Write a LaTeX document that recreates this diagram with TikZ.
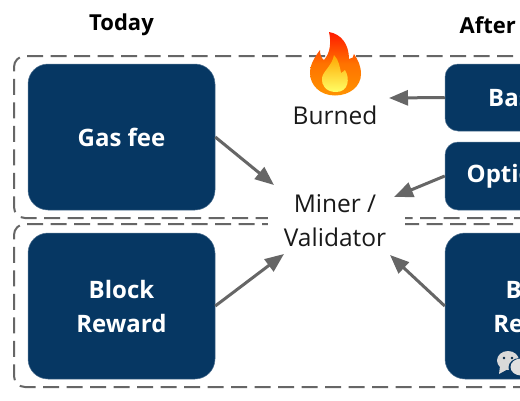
\documentclass[tikz,border=0pt]{standalone}
\usepackage{fontspec}
\setmainfont{Open Sans}
\usetikzlibrary{arrows.meta}
\definecolor{navy}{HTML}{063763}
\definecolor{linegray}{HTML}{666666}
\tikzset{
  x=1pt,y=-1pt,
  feebox/.style={draw=navy!70!white,line width=.5pt,fill=navy,rounded corners=20pt,text=white,font=\fontsize{24}{34}\selectfont\bfseries,align=center,inner sep=0pt},
  zone/.style={draw=linegray,line width=2pt,dash pattern=on 16pt off 7.5pt,rounded corners=11pt},
  flow/.style={draw=linegray,line width=3pt,-{Triangle[length=19pt,width=15pt]}},
  title/.style={font=\fontsize{22}{25}\selectfont\bfseries,text=black,inner sep=0pt},
  lab/.style={font=\fontsize{24.5}{34}\selectfont,text=black!90,align=center,inner sep=0pt}
}
\begin{document}
\begin{tikzpicture}
\useasboundingbox (0,0) rectangle (520,400);
\clip (0,0) rectangle (520,400);
\fill[white] (0,0) rectangle (520,400);
% dashed zones
\draw[zone] (560,56) -- (14,56) -- (14,218) -- (560,218);
\draw[zone] (560,224) -- (14,224) -- (14,387) -- (560,387);
\fill[white] (268,190) rectangle (405,250);
% boxes
\node[feebox,minimum width=187pt,minimum height=146pt] (gas) at (121.5,137) {Gas fee};
\node[feebox,minimum width=187pt,minimum height=146pt] (reward) at (121.5,306) {Block\\Reward};
\node[feebox,minimum width=187pt,minimum height=67pt,rounded corners=13pt] (base) at (538.5,97.5) {Base fee};
\node[feebox,minimum width=187pt,minimum height=68pt,rounded corners=13pt] (tip) at (538.5,176) {Optional tip};
\node[feebox,minimum width=187pt,minimum height=146pt] (rewardr) at (538.5,306) {Block\\Reward};
% titles
\node[title] (today) at (121.5,25) {Today};
\node[title,anchor=west] (after) at (459.5,25) {After};
% labels
\node[lab] (burned) at (335,115) {Burned};
\node[lab] (miner) at (335,221) {Miner /\\Validator};
% arrow targets
\coordinate (inA) at (274,185);
\coordinate (inB) at (284,254);
\coordinate (inC) at (389,98);
\coordinate (inD) at (394,197);
\coordinate (inE) at (390,255);
\draw[flow] (gas.east) -- (inA);
\draw[flow] (reward.east) -- (inB);
\draw[flow] (base.west) -- (inC);
\draw[flow] (tip.west) -- (inD);
\draw[flow] (rewardr.west) -- (inE);
% flame
\shade[top color=red!80!orange,bottom color=orange!85!yellow,middle color=orange!90!red]
  (335,95.5) .. controls (320,95.5) and (310,85) .. (310,73)
  .. controls (310,65) and (314,58) .. (320,50)
  .. controls (320,54) and (321,58) .. (324,60)
  .. controls (331,52) and (331,41) .. (329,32)
  .. controls (341,34) and (349,44) .. (349,59)
  .. controls (352,59) and (354,57) .. (354,54)
  .. controls (358,60) and (361,66) .. (361,74)
  .. controls (361,86) and (350,95.5) .. (335,95.5) -- cycle;
\shade[top color=orange!70!yellow,bottom color=yellow!60!white]
  (336,92) .. controls (326,92) and (321,85) .. (322,78)
  .. controls (323,71) and (332,66) .. (334,55)
  .. controls (339,60) and (340,68) .. (341,73)
  .. controls (343,72) and (344,71) .. (345,70)
  .. controls (350,78) and (349,92) .. (336,92) -- cycle;
% watermark icon
\fill[black!15] (508,360.5) ellipse (11pt and 9.5pt);
\fill[black!15] (500,366) -- (499,374) -- (508,369) -- cycle;
\fill[navy] (520,367.5) ellipse (11.5pt and 9.5pt);
\fill[black!12] (521,367) ellipse (10.5pt and 8.5pt);
\fill[navy!70!black] (504,358) circle (1.4pt) (512,358) circle (1.4pt);
\end{tikzpicture}
\end{document}
